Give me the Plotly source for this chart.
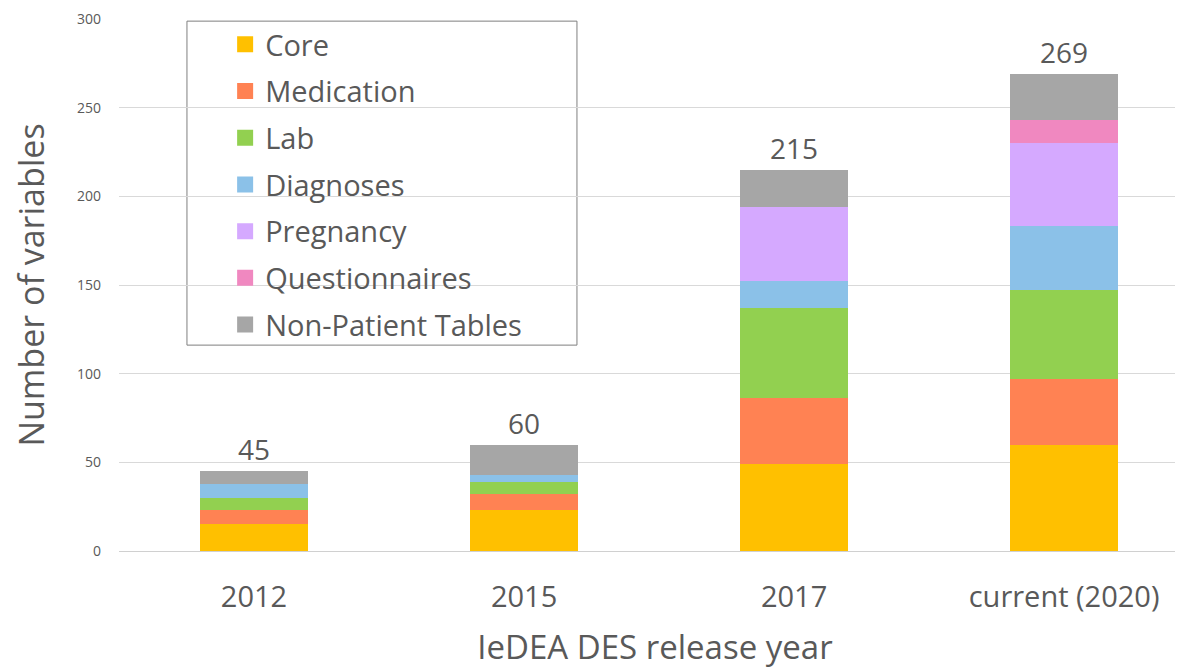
import plotly.graph_objects as go

categories = ["2012", "2015", "2017", "current (2020)"]
core = [15, 23, 49, 60]
medication = [8, 9, 37, 37]
lab = [7, 7, 51, 50]
diagnoses = [8, 4, 15, 36]
pregnancy = [0, 0, 42, 47]
questionnaires = [0, 0, 0, 13]
non_patient = [7, 17, 21, 26]

series = [
    ("Core", core, "#FFC000"),
    ("Medication", medication, "#FF8253"),
    ("Lab", lab, "#92D050"),
    ("Diagnoses", diagnoses, "#8BC1E8"),
    ("Pregnancy", pregnancy, "#D5A9FF"),
    ("Questionnaires", questionnaires, "#F088C0"),
    ("Non-Patient Tables", non_patient, "#A6A6A6"),
]

FONT = "Open Sans"
GREY = "#595959"

fig = go.Figure()
for name, vals, col in series:
    fig.add_trace(go.Bar(
        x=categories, y=vals, name=name, legendgroup=name, showlegend=False,
        marker=dict(color=col, line=dict(width=0)), width=0.4,
    ))
# legend entries with larger square swatches
for name, vals, col in series:
    fig.add_trace(go.Scatter(
        x=[None], y=[None], mode="markers", name=name, legendgroup=name,
        marker=dict(symbol="square", size=20, color=col), hoverinfo="skip",
    ))

totals = [sum(v) for v in zip(*[s[1] for s in series])]
for i, tot in enumerate(totals):
    fig.add_annotation(
        x=i, y=tot, xref="x", yref="y", text=str(tot), showarrow=False,
        yanchor="bottom", yshift=1,
        font=dict(size=28, color=GREY, family=FONT),
    )

fig.add_shape(
    type="rect", xref="paper", yref="paper",
    x0=0.0634, x1=0.4272, y0=0.387, y1=0.996,
    line=dict(color="#7F7F7F", width=1), fillcolor="white", layer="below",
)

fig.update_layout(
    width=1183, height=671,
    barmode="stack",
    plot_bgcolor="white", paper_bgcolor="white",
    margin=dict(l=111, r=0, t=11, b=128, autoexpand=False),
    font=dict(family=FONT, color=GREY),
    legend=dict(
        x=0.099, y=1.0, xanchor="left", yanchor="top",
        bgcolor="rgba(0,0,0,0)", borderwidth=0,
        font=dict(size=29, color=GREY, family=FONT),
        traceorder="grouped", tracegroupgap=6,
    ),
    xaxis=dict(
        range=[-0.5, 3.47], showgrid=False, showline=True, linecolor="#D0D0D0",
        tickfont=dict(size=29, color=GREY), ticks="", ticklabelstandoff=20,
        title=dict(text="IeDEA DES release year", font=dict(size=33, color=GREY), standoff=22),
    ),
    yaxis=dict(
        range=[0, 300], dtick=50, showgrid=True, gridcolor="#D9D9D9", zeroline=False,
        tickfont=dict(size=14, color=GREY), ticks="", ticklabelstandoff=17,
        title=dict(text="Number of variables", font=dict(size=34, color=GREY), standoff=27),
    ),
)

fig.write_html("out.html")
